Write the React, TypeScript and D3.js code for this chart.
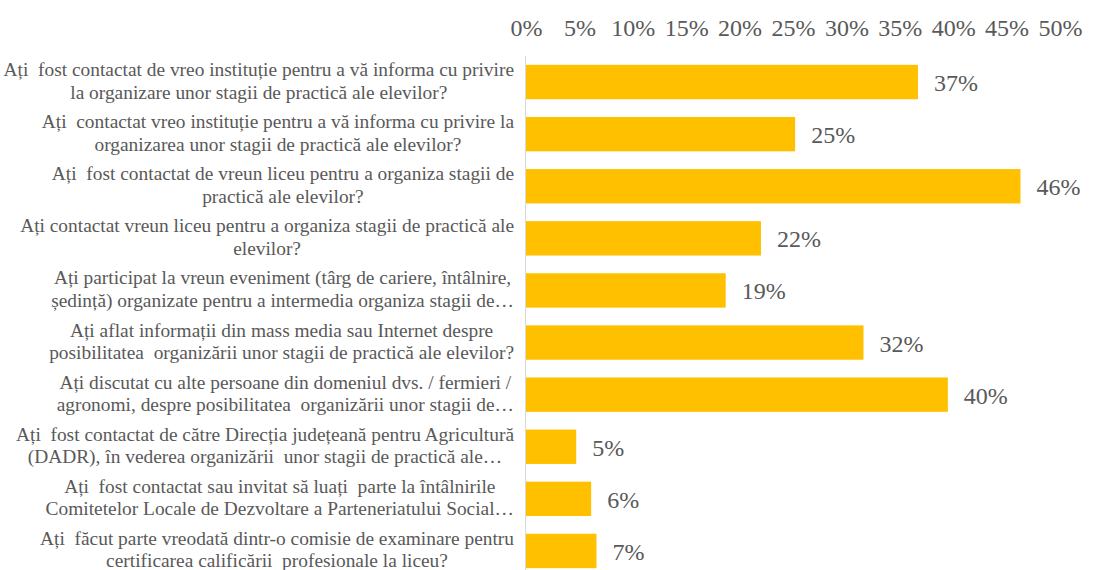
import React, { useEffect, useRef } from "react";
import * as d3 from "d3";

const categories: string[] = [
  "Ați  fost contactat de vreo instituție pentru a vă informa cu privire\nla organizare unor stagii de practică ale elevilor?",
  "Ați  contactat vreo instituție pentru a vă informa cu privire la\norganizarea unor stagii de practică ale elevilor?",
  "Ați  fost contactat de vreun liceu pentru a organiza stagii de\npractică ale elevilor?",
  "Ați contactat vreun liceu pentru a organiza stagii de practică ale\nelevilor?",
  "Ați participat la vreun eveniment (târg de cariere, întâlnire,\nședință) organizate pentru a intermedia organiza stagii de…",
  "Ați aflat informații din mass media sau Internet despre\nposibilitatea  organizării unor stagii de practică ale elevilor?",
  "Ați discutat cu alte persoane din domeniul dvs. / fermieri /\nagronomi, despre posibilitatea  organizării unor stagii de…",
  "Ați  fost contactat de către Direcția județeană pentru Agricultură\n(DADR), în vederea organizării  unor stagii de practică ale…",
  "Ați  fost contactat sau invitat să luați  parte la întâlnirile\nComitetelor Locale de Dezvoltare a Parteneriatului Social…",
  "Ați  făcut parte vreodată dintr-o comisie de examinare pentru\ncertificarea calificării  profesionale la liceu?",
];

const values: number[] = [36.7, 25.2, 46.3, 22.0, 18.7, 31.6, 39.5, 4.7, 6.1, 6.6];

const tickValues: number[] = [0, 5, 10, 15, 20, 25, 30, 35, 40, 45, 50];

const W = 1106;
const H = 570;
const FONT = "Liberation Serif";
const TEXT = "#595959";
const BAR = "#FFC000";

export default function App() {
  const ref = useRef<SVGSVGElement | null>(null);

  useEffect(() => {
    const svg = d3.select(ref.current);
    svg.selectAll("*").remove();

    const x = d3.scaleLinear().domain([0, 50]).range([526, 1060]);
    const y = d3
      .scaleBand<number>()
      .domain(categories.map((_, i) => i))
      .range([56, 577])
      .paddingInner(0.34)
      .paddingOuter(0.17);

    // top axis
    const axis = d3
      .axisTop(x)
      .tickValues(tickValues)
      .tickSize(0)
      .tickPadding(0)
      .tickFormat((d) => `${d}%`);
    const ag = svg.append("g").attr("transform", "translate(0,36)").call(axis);
    ag.attr("font-family", FONT).attr("font-size", 24);
    ag.select(".domain").remove();
    ag.selectAll("text")
      .attr("font-family", FONT)
      .attr("font-size", 24)
      .attr("fill", TEXT);

    // bars
    svg
      .append("g")
      .selectAll("rect")
      .data(values)
      .join("rect")
      .attr("x", x(0))
      .attr("y", (_, i) => y(i)!)
      .attr("width", (d) => x(d) - x(0))
      .attr("height", y.bandwidth())
      .attr("fill", BAR);

    // vertical axis line
    svg
      .append("line")
      .attr("x1", x(0) - 0.5)
      .attr("x2", x(0) - 0.5)
      .attr("y1", 56)
      .attr("y2", 577)
      .attr("stroke", "#d9d9d9")
      .attr("stroke-width", 1);

    // data labels
    svg
      .append("g")
      .selectAll("text")
      .data(values)
      .join("text")
      .attr("x", (d) => x(d) + 16)
      .attr("y", (_, i) => y(i)! + y.bandwidth() / 2 + 9)
      .attr("font-family", FONT)
      .attr("font-size", 24)
      .attr("fill", TEXT)
      .text((d) => `${Math.round(d)}%`);

    // category labels
    const R = 514;
    const lg = svg.append("g");
    categories.forEach((cat, i) => {
      const lines = cat.split("\n");
      const c = y(i)! + y.bandwidth() / 2;
      const offs = lines.length === 2 ? [-6, 16.5] : [6];
      const texts = lines.map((ln, j) =>
        lg
          .append("text")
          .attr("y", c + offs[j])
          .attr("font-family", FONT)
          .attr("font-size", 19.4)
          .attr("fill", TEXT)
          .attr("text-anchor", "middle")
          .style("white-space", "pre")
          .text(ln)
      );
      const maxW = d3.max(texts, (t) => (t.node() as SVGTextElement).getComputedTextLength()) || 0;
      texts.forEach((t) => t.attr("x", R - maxW / 2));
    });
  }, []);

  return (
    <svg
      ref={ref}
      width={W}
      height={H}
      style={{ position: "absolute", left: 0, top: 0, background: "#fff" }}
    />
  );
}
